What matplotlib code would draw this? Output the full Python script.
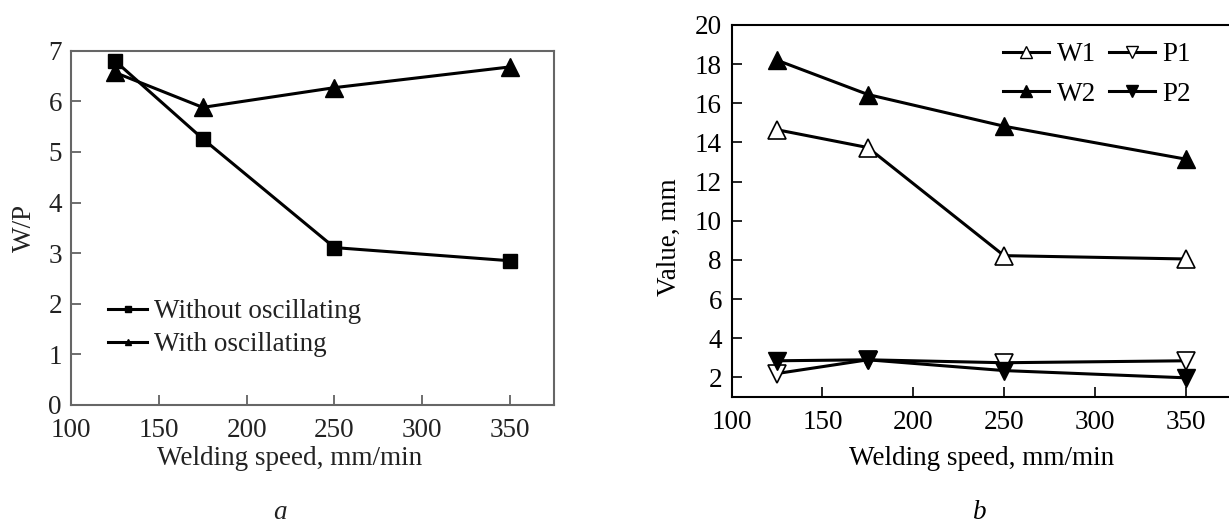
import matplotlib
matplotlib.use("Agg")
import matplotlib.pyplot as plt
from matplotlib.lines import Line2D

plt.rcParams['font.family'] = ['Liberation Serif', 'DejaVu Serif']
plt.rcParams['font.size'] = 19.5

# welding speed, mm/min
speed = [125, 175, 250, 350]

# panel a: W/P ratio
wp_without = [6.80, 5.26, 3.11, 2.85]
wp_with = [6.57, 5.88, 6.27, 6.68]

# panel b: width / penetration, mm
w1 = [14.65, 13.74, 8.22, 8.05]
p1 = [2.2, 2.9, 2.75, 2.85]
w2 = [18.2, 16.45, 14.83, 13.15]
p2 = [2.85, 2.9, 2.35, 1.98]

W, H = 1229, 527
fig = plt.figure(figsize=(W / 100, H / 100), dpi=100)


def px_axes(x0, y0, x1, y1):
    return fig.add_axes([x0 / W, 1 - y1 / H, (x1 - x0) / W, (y1 - y0) / H])


# ---- panel a ----
grey = '#222222'
ax1 = px_axes(71, 50.7, 554, 405)
ax1.plot(speed, wp_without, color='black', lw=2.2, marker='s', ms=10.5)
ax1.plot(speed, wp_with, color='black', lw=2.2, marker='^', ms=12.5)
ax1.set_xlim(100, 375)
ax1.set_ylim(0, 7)
ax1.set_xticks([100, 150, 200, 250, 300, 350])
ax1.set_yticks(range(0, 8))
ax1.tick_params(direction='in', length=7, width=1.2, colors='#555555',
                labelcolor=grey)
ax1.tick_params(axis='x', pad=9.5)
ax1.tick_params(axis='y', pad=6.5)
for s in ax1.spines.values():
    s.set_color('#666666')
    s.set_linewidth(1.5)
ax1.set_xlabel('Welding speed, mm/min', color=grey, labelpad=2)
ax1.xaxis.label.set_x((290 - 71) / 483)
ax1.set_ylabel('W/P', color=grey, labelpad=8)

leg_a = [Line2D([], [], color='black', lw=2.2, marker='s', ms=4),
         Line2D([], [], color='black', lw=2.2, marker='^', ms=5)]
fig.legend(leg_a, ['Without oscillating', 'With oscillating'],
           loc='upper left', bbox_to_anchor=(108 / W, 1 - 299 / H),
           frameon=False, borderpad=0, borderaxespad=0, handlelength=1.45,
           handletextpad=0.25, labelspacing=0.3, labelcolor=grey)
fig.text(280 / W, 1 - 519 / H, 'a', style='italic', ha='center', va='baseline',
         color=grey)

# ---- panel b ----
ax2 = px_axes(731.7, 25, 1231, 397)
ax2.plot(speed, w1, color='black', lw=2.2, marker='^', ms=12.5,
         mfc='white', mec='black', mew=1.2)
ax2.plot(speed, p1, color='black', lw=2.2, marker='v', ms=12.5,
         mfc='white', mec='black', mew=1.2)
ax2.plot(speed, w2, color='black', lw=2.2, marker='^', ms=12.5)
ax2.plot(speed, p2, color='black', lw=2.2, marker='v', ms=12.5)
ax2.set_xlim(100, 375)
ax2.set_ylim(1, 20)
ax2.set_xticks([100, 150, 200, 250, 300, 350])
ax2.set_yticks(range(2, 21, 2))
ax2.tick_params(direction='in', length=7, width=1.2)
ax2.tick_params(axis='x', pad=9.5)
ax2.tick_params(axis='y', pad=7)
for s in ax2.spines.values():
    s.set_linewidth(1.5)
ax2.set_xlabel('Welding speed, mm/min', labelpad=8)
ax2.set_ylabel('Value, mm')
ax2.yaxis.set_label_coords(-0.1, 0.43)

leg_b = [Line2D([], [], color='black', lw=2.2, marker='^', ms=9, mfc='white', mew=1),
         Line2D([], [], color='black', lw=2.2, marker='^', ms=9),
         Line2D([], [], color='black', lw=2.2, marker='v', ms=9, mfc='white', mew=1),
         Line2D([], [], color='black', lw=2.2, marker='v', ms=9)]
fig.legend(leg_b, ['W1', 'W2', 'P1', 'P2'], ncol=2,
           loc='upper left', bbox_to_anchor=(1003 / W, 1 - 42 / H),
           frameon=False, borderpad=0, borderaxespad=0, handlelength=1.7,
           handletextpad=0.3, columnspacing=0.45, labelspacing=0.54)
fig.text(980 / W, 1 - 519 / H, 'b', style='italic', ha='center', va='baseline')

fig.savefig('out.png', dpi=100)
